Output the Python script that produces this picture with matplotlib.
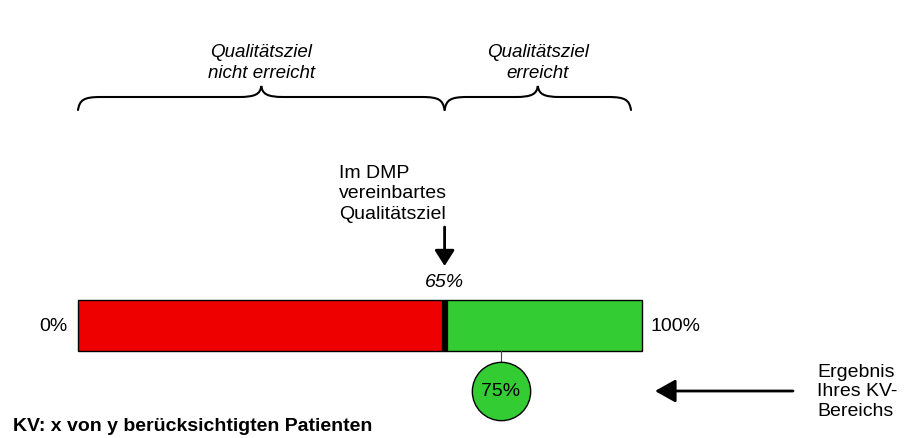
import matplotlib
matplotlib.use('Agg')
import matplotlib.pyplot as plt
from matplotlib.path import Path
import matplotlib.patches as patches

plt.rcParams['font.family'] = ['Liberation Sans', 'DejaVu Sans']

# werte
ziel = 65          # im DMP vereinbartes Qualitaetsziel (%)
ergebnis = 75      # Ergebnis des KV-Bereichs (%)
skala = [0, 100]
skala_labels = ['0%', '100%']
bereiche = ['Qualitätsziel\nnicht erreicht', 'Qualitätsziel\nerreicht']
ziel_text = 'Im DMP\nvereinbartes\nQualitätsziel'
ergebnis_text = 'Ergebnis\nIhres KV-\nBereichs'
fuss_text = 'KV: x von y berücksichtigten Patienten'

ROT = '#ee0000'
GRUEN = '#33cc33'

W, H = 919, 439
X0, X1 = 78, 642          # pixel position of 0% and 100%
ppp = (X1 - X0) / 100.0   # pixel per percent


def px(x):
    # pixel -> percent (only for layout)
    return (x - X0) / ppp


def klammer(ax, a, b, y_end=111, y_body=98, y_tip=87, r=4.0):
    m = (a + b) / 2.0
    verts = [(a, y_end),
             (a + 0.3, y_body + 3), (a + 1.0, y_body), (a + r, y_body),
             (m - r, y_body),
             (m - 1.0, y_body), (m - 0.2, y_body - 3), (m, y_tip),
             (m + 0.2, y_body - 3), (m + 1.0, y_body), (m + r, y_body),
             (b - r, y_body),
             (b - 1.0, y_body), (b - 0.3, y_body + 3), (b, y_end)]
    codes = [Path.MOVETO,
             Path.CURVE4, Path.CURVE4, Path.CURVE4,
             Path.LINETO,
             Path.CURVE4, Path.CURVE4, Path.CURVE4,
             Path.CURVE4, Path.CURVE4, Path.CURVE4,
             Path.LINETO,
             Path.CURVE4, Path.CURVE4, Path.CURVE4]
    ax.add_patch(patches.PathPatch(Path(verts, codes), fill=False,
                                   lw=1.5, edgecolor='black', capstyle='round'))


fig = plt.figure(figsize=(W / 100, H / 100), dpi=100)
ax = fig.add_axes([0, 0, 1, 1])
ax.set_xlim(px(0), px(W))
ax.set_ylim(H, 0)
ax.axis('off')

# balken
bar_y, bar_h = 326.5, 51
ax.barh(bar_y, ziel - skala[0], left=skala[0], height=bar_h, color=ROT,
        edgecolor='black', lw=1)
ax.barh(bar_y, skala[1] - ziel, left=ziel, height=bar_h, color=GRUEN,
        edgecolor='black', lw=1)
ax.plot([ziel, ziel], [bar_y - bar_h / 2, bar_y + bar_h / 2], color='black',
        lw=4.5, solid_capstyle='butt')

ax.text(skala[0] - px(X0 + 11), bar_y, skala_labels[0], ha='right', va='center',
        fontsize=14)
ax.text(skala[1] + px(X0 + 9), bar_y, skala_labels[1], ha='left', va='center',
        fontsize=14)

# klammern
klammer(ax, skala[0], ziel)
klammer(ax, ziel, px(631))
ax.text((skala[0] + ziel) / 2, 63, bereiche[0], ha='center', va='center',
        fontsize=13.5, style='italic', linespacing=1.3)
ax.text((ziel + px(631)) / 2, 63, bereiche[1], ha='center', va='center',
        fontsize=13.5, style='italic', linespacing=1.3)

# ziel
ax.text(px(339), 194, ziel_text, ha='left', va='center', fontsize=14,
        linespacing=1.3)
ax.annotate('', xy=(ziel, 267), xytext=(ziel, 228),
            arrowprops=dict(arrowstyle='-|>,head_length=0.95,head_width=0.6',
                            lw=2, color='black', shrinkA=0, shrinkB=0,
                            mutation_scale=10))
ax.text(ziel, 283, f'{ziel}%', ha='center', va='center', fontsize=14,
        style='italic')

# ergebnis
ax.plot([ergebnis, ergebnis], [bar_y + bar_h / 2, 363], color='#444444', lw=0.8)
ax.plot([ergebnis], [392], 'o', ms=42, mfc=GRUEN, mec='black', mew=1)
ax.text(ergebnis, 392, f'{ergebnis}%', ha='center', va='center', fontsize=14)

ax.annotate('', xy=(px(655), 392), xytext=(px(793), 392),
            arrowprops=dict(arrowstyle='-|>,head_length=1.25,head_width=0.7',
                            lw=2, color='black', shrinkA=0, shrinkB=0,
                            mutation_scale=10))
ax.text(px(817), 392, ergebnis_text, ha='left', va='center', fontsize=14,
        linespacing=1.2)

ax.text(px(13), 427, fuss_text, ha='left', va='center', fontsize=14,
        fontweight='bold')

fig.savefig('out.png', dpi=100, facecolor='white')
